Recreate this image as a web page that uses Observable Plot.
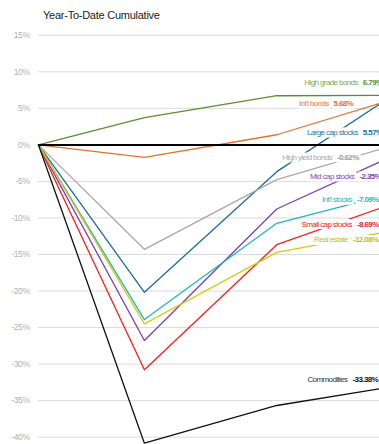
<!DOCTYPE html>
<html>
<head>
<meta charset="utf-8">
<script src="https://cdn.jsdelivr.net/npm/d3@7"></script>
<script src="https://cdn.jsdelivr.net/npm/@observablehq/plot@0.6"></script>
<style>
  html, body { margin: 0; padding: 0; background: #fff; overflow: hidden; }
  #title {
    font-family: "Liberation Sans", Arial, sans-serif;
    font-size: 11px; letter-spacing: -0.25px; color: #222;
    height: 26px; box-sizing: border-box; padding: 10px 0 0 43px; line-height: 11px;
  }
  #chart svg { display: block; }
  #chart g[aria-label^="y-axis"] text { letter-spacing: -0.45px; }
  #chart g[aria-label="text"] text { letter-spacing: -0.6px; }
</style>
</head>
<body>
<div id="title">Year-To-Date Cumulative</div>
<div id="chart"></div>
<script>
// Asset classes, in legend order
const series = [
  "High grade bonds", "Int'l bonds", "Large cap stocks", "High yield bonds",
  "Mid cap stocks", "Int'l stocks", "Small cap stocks", "Real estate", "Commodities"
];

// Checkpoints along the year (start, March low, early summer, latest)
const periods = [0, 1, 2.25, 3.22];

// Cumulative return (%) at each checkpoint
const highGradeBonds = [0, 3.73, 6.73, 6.79];
const intlBonds      = [0, -1.71, 1.39, 5.68];
const largeCapStocks = [0, -20.17, -3.66, 5.57];
const highYieldBonds = [0, -14.29, -4.76, -0.62];
const midCapStocks   = [0, -26.77, -8.77, -2.35];
const intlStocks     = [0, -23.9, -10.73, -7.09];
const smallCapStocks = [0, -30.78, -13.65, -8.69];
const realEstate     = [0, -24.49, -14.7, -12.08];
const commodities    = [0, -40.82, -35.66, -33.38];

const values = [
  highGradeBonds, intlBonds, largeCapStocks, highYieldBonds,
  midCapStocks, intlStocks, smallCapStocks, realEstate, commodities
];

// Colours per series: line, label name, label value
const lineColors  = ["#5b8e31", "#e8702a", "#1c6e91", "#a8a8a8", "#7b3fb5", "#1fb3c2", "#ff1a1a", "#d6cc10", "#111111"];
const nameColors  = ["#7aab4e", "#ee7d3a", "#2a78a0", "#ababab", "#8a4cc0", "#22b6c4", "#f22020", "#c8c01c", "#333333"];
const valueColors = ["#5b8e31", "#e8702a", "#1c6e91", "#9a9a9a", "#7b3fb5", "#1fb3c2", "#ee1a1a", "#c4bc14", "#111111"];

// Where each end label sits, in chart units (checkpoint, percent)
const labelAt    = [3.063, 2.786, 3.063, 2.818, 3.031, 3.007, 3.007, 2.969, 2.965];
const labelLevel = [8.5, 5.67, 1.71, -1.71, -4.31, -7.49, -10.82, -13.0, -32.15];

// Y axis ticks
const yTicks = [15, 10, 5, 0, -5, -10, -15, -20, -25, -30, -35, -40];

const rows = series.flatMap((name, i) =>
  periods.map((p, j) => ({name, period: p, value: values[i][j]}))
);
const labels = series.map((name, i) => ({
  name, i,
  value: values[i][values[i].length - 1],
  at: labelAt[i],
  level: labelLevel[i]
}));

const chart = Plot.plot({
  width: 379,
  height: 418,
  marginLeft: 38,
  marginRight: 0,
  marginTop: 8.8,
  marginBottom: 7.3,
  style: {
    fontFamily: "'Liberation Sans', Arial, sans-serif",
    fontSize: "8.5px",
    color: "#b0b0b0",
    background: "#fff"
  },
  x: {domain: [0, 3.22], axis: null},
  y: {
    domain: [-40, 15],
    ticks: yTicks,
    tickFormat: d => d + "%",
    tickSize: 0,
    tickPadding: 9,
    label: null
  },
  color: {domain: series, range: lineColors},
  marks: [
    Plot.ruleY(yTicks.filter(t => t !== 0), {stroke: "#dadada", strokeWidth: 1}),
    Plot.line(rows, {x: "period", y: "value", z: "name", stroke: "name", strokeWidth: 1.3}),
    Plot.ruleY([0], {stroke: "#000", strokeWidth: 2}),
    Plot.text(labels, {
      x: "at", y: "level", text: "name", textAnchor: "end", dx: -5,
      fill: d => nameColors[d.i], fontSize: 8
    }),
    Plot.text(labels, {
      x: "at", y: "level", text: d => d.value.toFixed(2) + "%", textAnchor: "start",
      fill: d => valueColors[d.i], fontWeight: "bold", fontSize: 8
    })
  ]
});

document.getElementById("chart").append(chart);

// White boxes behind the end labels so lines and grid pass underneath them
const ns = "http://www.w3.org/2000/svg";
chart.querySelectorAll('g[aria-label="text"] text').forEach(t => {
  const b = t.getBBox();
  const r = document.createElementNS(ns, "rect");
  r.setAttribute("x", b.x - 1.5);
  r.setAttribute("y", b.y - 0.5);
  r.setAttribute("width", b.width + 3);
  r.setAttribute("height", b.height + 1);
  r.setAttribute("fill", "#fff");
  r.setAttribute("stroke", "none");
  const tr = t.getAttribute("transform");
  if (tr) r.setAttribute("transform", tr);
  t.parentNode.insertBefore(r, t);
});
</script>
</body>
</html>
